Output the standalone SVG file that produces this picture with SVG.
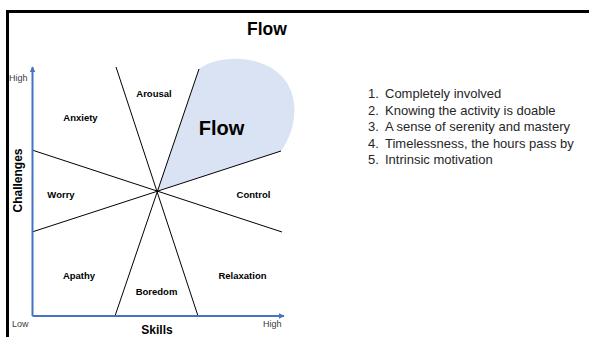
<svg xmlns="http://www.w3.org/2000/svg" width="589" height="337" viewBox="0 0 589 337">
  <defs>
    <style>
      .frame { stroke: #000; stroke-width: 3; fill: none; }
      .div { stroke: #000; stroke-width: 1; fill: none; }
      .axis { stroke: #4472c4; stroke-width: 2; fill: none; }
      .lbl { font-family: "Liberation Sans", Arial, sans-serif; font-weight: bold; font-size: 9.5px; fill: #000; text-anchor: middle; }
      .tick { font-family: "Liberation Sans", Arial, sans-serif; font-size: 9px; fill: #404040; }
      .axlbl { font-family: "Liberation Sans", Arial, sans-serif; font-weight: bold; font-size: 12px; fill: #000; text-anchor: middle; }
      .list { font-family: "Liberation Sans", Arial, sans-serif; font-size: 13px; fill: #262626; }
    </style>
    <marker id="arr" viewBox="0 0 10 10" refX="9" refY="5" markerWidth="3" markerHeight="3" orient="auto" markerUnits="strokeWidth">
      <path d="M0,0 L10,5 L0,10 Z" fill="#4472c4"/>
    </marker>
  </defs>
  <rect x="0" y="0" width="589" height="337" fill="#fff"/>
  <path class="frame" d="M7.5,337 L7.5,11.5 L589,11.5"/>
  <text x="267" y="35" font-family="Liberation Sans, Arial, sans-serif" font-weight="bold" font-size="17.5" text-anchor="middle" fill="#000">Flow</text>

  <g id="flow">
    <path d="M157,191 L199,69 C218,54 268,53 287,83 C299,102 296,130 281,151 Z" fill="#dae3f3"/>
    <text x="221.5" y="135" font-family="Liberation Sans, Arial, sans-serif" font-weight="bold" font-size="20" text-anchor="middle" fill="#000">Flow</text>
  </g>

  <g id="connectors">
    <line class="div" x1="116" y1="67" x2="198" y2="316"/>
    <line class="div" x1="199" y1="69" x2="115" y2="316"/>
    <line class="div" x1="32" y1="150" x2="282" y2="232"/>
    <line class="div" x1="32" y1="232" x2="281" y2="151"/>
    <line class="axis" x1="32.5" y1="316" x2="32.5" y2="67" marker-end="url(#arr)"/>
    <line class="axis" x1="32.5" y1="316" x2="284" y2="316" marker-end="url(#arr)"/>
  </g>

  <g id="anxiety"><text class="lbl" x="80.5" y="121">Anxiety</text></g>
  <g id="arousal"><text class="lbl" x="154" y="96.5">Arousal</text></g>
  <g id="worry"><text class="lbl" x="61" y="198">Worry</text></g>
  <g id="control"><text class="lbl" x="253.5" y="198">Control</text></g>
  <g id="apathy"><text class="lbl" x="79" y="279">Apathy</text></g>
  <g id="boredom"><text class="lbl" x="156.5" y="294.5">Boredom</text></g>
  <g id="relaxation"><text class="lbl" x="242.5" y="279">Relaxation</text></g>

  <g id="axis-labels">
    <text class="tick" x="9" y="81">High</text>
    <text class="tick" x="12" y="327">Low</text>
    <text class="tick" x="263" y="327">High</text>
    <text class="axlbl" x="157" y="333.5">Skills</text>
    <text class="axlbl" x="22" y="180.5" transform="rotate(-90 22 180.5)">Challenges</text>
  </g>

  <g id="list">
    <text class="list" x="368" y="98">1.<tspan x="385">Completely involved</tspan></text>
    <text class="list" x="368" y="114.5">2.<tspan x="385">Knowing the activity is doable</tspan></text>
    <text class="list" x="368" y="131">3.<tspan x="385">A sense of serenity and mastery</tspan></text>
    <text class="list" x="368" y="147.5">4.<tspan x="385">Timelessness, the hours pass by</tspan></text>
    <text class="list" x="368" y="164">5.<tspan x="385">Intrinsic motivation</tspan></text>
  </g>
</svg>
